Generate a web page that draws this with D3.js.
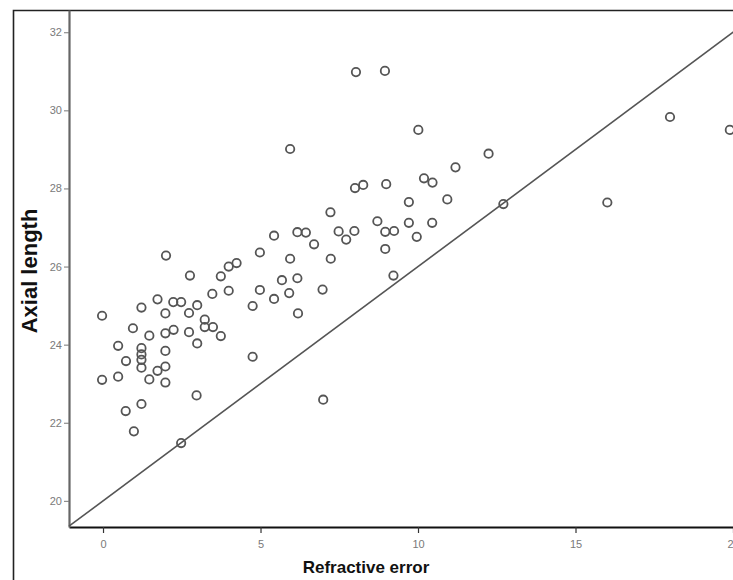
<!DOCTYPE html>
<html>
<head>
<meta charset="utf-8">
<script src="https://cdn.jsdelivr.net/npm/d3@7"></script>
<style>
  body { margin: 0; background: #fff; }
  .tick text { fill: #7a7a7a; font-family: "Liberation Sans", Arial, sans-serif; font-size: 11px; }
</style>
</head>
<body>
<div id="scatter"></div>
<script>
// data
var refractive = [8.03, 8.95, 5.94, 10.01, 12.24, 18.0, 19.9, 11.19, 8.0, 8.26,
  8.99, 10.19, 10.46, 9.71, 10.93, 12.71, 16.01, 7.22, 8.71, 9.71,
  10.45, 5.43, 6.17, 6.44, 7.48, 7.72, 7.98, 6.70, 8.96, 9.24,
  9.96, 8.96, 4.98, 5.94, 7.23, 4.24, 3.99, 3.74, 2.0, 2.76,
  3.47, 3.99, 4.98, 5.68, 6.17, 5.43, 5.91, 6.97, 4.75, 6.19,
  9.22, -0.03, 1.22, 1.73, 2.23, 2.48, 2.99, 1.98, 2.73, 3.23,
  3.23, 3.49, 0.95, 1.47, 1.98, 2.24, 2.73, 3.74, 2.99, 0.48,
  1.22, 1.22, 1.22, 1.22, 0.73, 1.98, 1.98, 1.73, 1.47, 1.98,
  -0.03, 0.48, 4.75, 2.97, 0.72, 1.22, 0.98, 2.48, 6.99];

var axial = [30.98, 31.01, 29.01, 29.50, 28.89, 29.83, 29.50, 28.54, 28.01, 28.09,
  28.11, 28.26, 28.15, 27.65, 27.72, 27.60, 27.64, 27.39, 27.16, 27.12,
  27.12, 26.79, 26.88, 26.87, 26.90, 26.69, 26.91, 26.57, 26.89, 26.91,
  26.76, 26.45, 26.36, 26.20, 26.20, 26.09, 26.00, 25.75, 26.28, 25.77,
  25.30, 25.38, 25.40, 25.65, 25.70, 25.17, 25.32, 25.41, 24.99, 24.80,
  25.77, 24.74, 24.95, 25.16, 25.09, 25.09, 25.01, 24.80, 24.81, 24.64,
  24.45, 24.45, 24.42, 24.23, 24.29, 24.38, 24.32, 24.22, 24.03, 23.97,
  23.91, 23.75, 23.61, 23.41, 23.58, 23.84, 23.44, 23.33, 23.11, 23.03,
  23.10, 23.18, 23.69, 22.70, 22.30, 22.48, 21.78, 21.48, 22.59];

// reference line end points
var lineX = [-1.08, 20.6];
var lineY = [19.35, 32.36];

var xTicks = [0, 5, 10, 15, 20];
var yTicks = [20, 22, 24, 26, 28, 30, 32];

var svgWidth = 733;
var svgHeight = 580;

var margin = { top: 10, right: 0, bottom: 53, left: 69 };
var width = svgWidth - margin.left - margin.right;
var height = svgHeight - margin.top - margin.bottom;

var points = refractive.map(function(r, i) {
  return { refractive: r, axial: axial[i] };
});

var svg = d3.select("#scatter")
  .append("svg")
  .attr("width", svgWidth)
  .attr("height", svgHeight);

// outer frame (left and top edges)
svg.append("path")
  .attr("d", "M13.5,580 L13.5,10.5 L733,10.5")
  .attr("fill", "none")
  .attr("stroke", "#222")
  .attr("stroke-width", 1.6);

var chartGroup = svg.append("g")
  .attr("transform", `translate(${margin.left}, ${margin.top})`);

// scales
var xLinearScale = d3.scaleLinear()
  .domain([-1.08, 20])
  .range([0, width]);

var yLinearScale = d3.scaleLinear()
  .domain([19.33, 32.57])
  .range([height, 0]);

// axes
var bottomAxis = d3.axisBottom(xLinearScale)
  .tickValues(xTicks)
  .tickSize(6)
  .tickSizeOuter(0)
  .tickPadding(7);

var leftAxis = d3.axisLeft(yLinearScale)
  .tickValues(yTicks)
  .tickSize(5)
  .tickSizeOuter(0)
  .tickPadding(2);

var xAxisG = chartGroup.append("g")
  .attr("transform", `translate(0, ${height})`)
  .call(bottomAxis);
xAxisG.select(".domain").attr("stroke", "#111").attr("stroke-width", 2);
xAxisG.selectAll(".tick line").attr("stroke", "#333").attr("stroke-width", 1.2);

var yAxisG = chartGroup.append("g")
  .call(leftAxis);
yAxisG.select(".domain").attr("stroke", "#666").attr("stroke-width", 2.2);
yAxisG.selectAll(".tick line").attr("stroke", "#777").attr("stroke-width", 1);

// reference line
chartGroup.append("line")
  .attr("x1", xLinearScale(lineX[0]))
  .attr("y1", yLinearScale(lineY[0]))
  .attr("x2", xLinearScale(lineX[1]))
  .attr("y2", yLinearScale(lineY[1]))
  .attr("stroke", "#555")
  .attr("stroke-width", 1.6);

// circles
chartGroup.selectAll("circle")
  .data(points)
  .enter()
  .append("circle")
  .attr("cx", d => xLinearScale(d.refractive))
  .attr("cy", d => yLinearScale(d.axial))
  .attr("r", 4.2)
  .attr("fill", "none")
  .attr("stroke", "#555")
  .attr("stroke-width", 1.8);

// axis labels
svg.append("text")
  .attr("transform", "translate(37, 271) rotate(-90)")
  .attr("text-anchor", "middle")
  .attr("font-family", "Liberation Sans, Arial, sans-serif")
  .attr("font-size", "22px")
  .attr("font-weight", "bold")
  .attr("fill", "#111")
  .text("Axial length");

svg.append("text")
  .attr("x", 366)
  .attr("y", 573)
  .attr("text-anchor", "middle")
  .attr("font-family", "Liberation Sans, Arial, sans-serif")
  .attr("font-size", "17px")
  .attr("font-weight", "bold")
  .attr("fill", "#111")
  .text("Refractive error");
</script>
</body>
</html>
